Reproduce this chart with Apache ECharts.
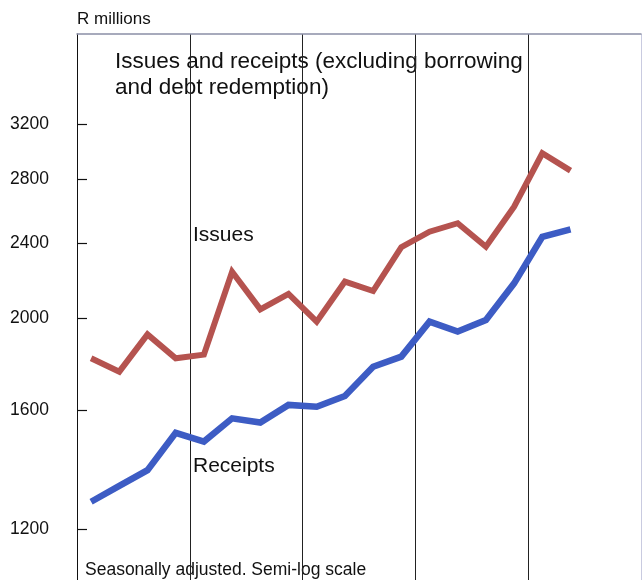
<!DOCTYPE html>
<html>
<head>
<meta charset="utf-8">
<script src="https://cdn.jsdelivr.net/npm/echarts@6/dist/echarts.min.js"></script>
<style>html,body{margin:0;padding:0;background:#fff}#c{width:642px;height:580px}</style>
</head>
<body>
<div id="c"></div>
<script>
// Quarterly periods (5 years x 4 quarters); data covers the first 18
const quarters = ['Y1 Q1','Y1 Q2','Y1 Q3','Y1 Q4','Y2 Q1','Y2 Q2','Y2 Q3','Y2 Q4','Y3 Q1','Y3 Q2','Y3 Q3','Y3 Q4','Y4 Q1','Y4 Q2','Y4 Q3','Y4 Q4','Y5 Q1','Y5 Q2','Y5 Q3','Y5 Q4'];
const issues   = [1816, 1758, 1924, 1816, 1832, 2239, 2044, 2122, 1984, 2186, 2137, 2376, 2467, 2518, 2379, 2621, 2983, 2860];
const receipts = [1283, 1333, 1385, 1516, 1484, 1570, 1554, 1622, 1615, 1657, 1779, 1823, 1984, 1937, 1992, 2177, 2437, 2481];
const yTicks = [1200, 1600, 2000, 2400, 2800, 3200];

const chart = echarts.init(document.getElementById('c'), null, {renderer: 'canvas'});
const FONT = 'Liberation Sans';
chart.setOption({
  animation: false,
  backgroundColor: '#fff',
  grid: {left: 77, right: 1, top: 34, bottom: 0},
  xAxis: {
    type: 'category', data: quarters, boundaryGap: true, position: 'top',
    axisLine: {show: true, lineStyle: {color: '#8b8fa6', width: 1.5}},
    axisTick: {show: false}, axisLabel: {show: false},
    splitLine: {show: true, interval: 3, lineStyle: {color: ['#222', '#222', '#222', '#222', '#222', '#c9cbe0'], width: 1}}
  },
  yAxis: {
    type: 'log', min: 1061.5, max: 3981.6,
    axisLine: {show: true, lineStyle: {color: '#111', width: 1}},
    axisTick: {show: true, inside: true, length: 10, customValues: yTicks, lineStyle: {color: '#111', width: 1.2}},
    axisLabel: {show: true, customValues: yTicks, align: 'left', margin: 67, color: '#111', fontFamily: FONT, fontSize: 17.5, formatter: v => String(Math.round(v))},
    splitLine: {show: false}
  },
  series: [
    {name: 'Issues', type: 'line', data: issues, symbol: 'none', lineStyle: {color: '#b5534f', width: 6, join: 'miter'}},
    {name: 'Receipts', type: 'line', data: receipts, symbol: 'none', lineStyle: {color: '#3d5cc4', width: 6.5, join: 'miter'}}
  ],
  graphic: [
    {type: 'text', left: 77, top: 10.5, style: {text: 'R millions', fontFamily: FONT, fontSize: 17, fill: '#111'}},
    {type: 'text', left: 115, top: 48.4, style: {text: 'Issues and receipts (excluding borrowing\nand debt redemption)', fontFamily: FONT, fontSize: 22.5, lineHeight: 26, fill: '#111'}},
    {type: 'text', left: 193, top: 225, style: {text: 'Issues', fontFamily: FONT, fontSize: 21, fill: '#111'}},
    {type: 'text', left: 193, top: 456, style: {text: 'Receipts', fontFamily: FONT, fontSize: 21, fill: '#111'}},
    {type: 'text', left: 85, top: 560.8, style: {text: 'Seasonally adjusted. Semi-log scale', fontFamily: FONT, fontSize: 17.5, fill: '#111'}}
  ]
});
</script>
</body>
</html>
